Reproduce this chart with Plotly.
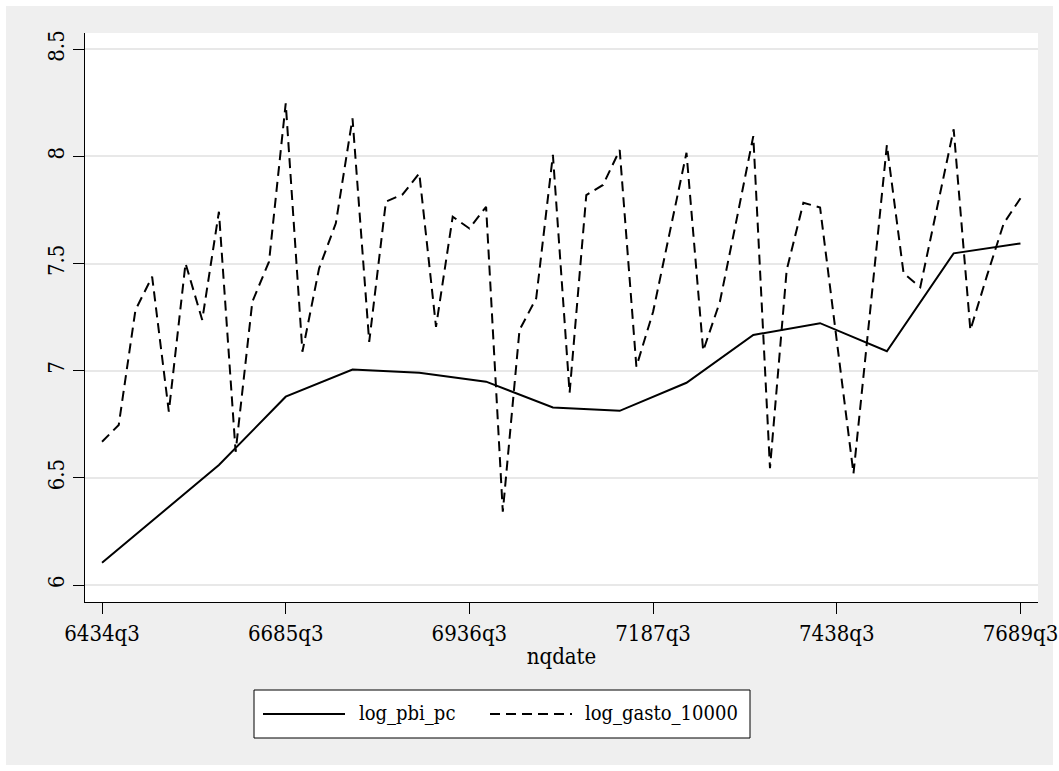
import plotly.graph_objects as go

# Observation index along the time axis (one value per period)
periodo = list(range(56))

# log of public spending (every period)
log_gasto_10000 = [
    6.669, 6.747, 7.283, 7.439, 6.809, 7.501, 7.237, 7.742, 6.622, 7.322,
    7.509, 8.248, 7.089, 7.478, 7.688, 8.178, 7.135, 7.789, 7.823, 7.921,
    7.205, 7.719, 7.664, 7.765, 6.342, 7.190, 7.338, 8.007, 6.897, 7.820,
    7.867, 8.030, 7.019, 7.275, 7.647, 8.017, 7.093, 7.322, 7.705, 8.095,
    6.545, 7.470, 7.784, 7.762, 7.140, 6.520, 7.280, 8.053, 7.455, 7.390,
    7.758, 8.127, 7.190, 7.445, 7.688, 7.805,
]

# log of GDP per capita (observed only in some periods; gaps are connected)
pbi_obs = {0: 6.104, 7: 6.560, 11: 6.879, 15: 7.006, 19: 6.991, 23: 6.949,
           27: 6.829, 31: 6.813, 35: 6.944, 39: 7.167, 43: 7.222, 47: 7.091,
           51: 7.548, 55: 7.594}
log_pbi_pc = [pbi_obs.get(p) for p in periodo]

x_tickvals = [0, 11, 22, 33, 44, 55]
x_ticktext = ["6434q3", "6685q3", "6936q3", "7187q3", "7438q3", "7689q3"]
y_tickvals = [6, 6.5, 7, 7.5, 8, 8.5]
y_ticktext = ["6", "6.5", "7", "7.5", "8", "8.5"]

W, H = 1059, 771
ML, MR, MT, MB = 85, 21, 33, 169
PW, PH = W - ML - MR, H - MT - MB

FONT = "DejaVu Serif Condensed, DejaVu Serif, serif"


def fx(px):
    return (px - ML) / PW


def fy(py):
    return (H - MB - py) / PH


fig = go.Figure()
fig.add_trace(go.Scatter(
    x=periodo, y=log_pbi_pc, mode="lines", connectgaps=True,
    line=dict(color="black", width=2), name="log_pbi_pc", showlegend=False,
))
fig.add_trace(go.Scatter(
    x=periodo, y=log_gasto_10000, mode="lines",
    line=dict(color="black", width=2, dash="10px,6px"),
    name="log_gasto_10000", showlegend=False,
))

shapes = [
    # white outer frame around the grey graph region
    dict(type="rect", xref="paper", yref="paper",
         x0=fx(0), x1=fx(W), y0=fy(H), y1=fy(0),
         line=dict(color="white", width=12), fillcolor="rgba(0,0,0,0)",
         layer="below"),
    # legend box
    dict(type="rect", xref="paper", yref="paper",
         x0=fx(254), x1=fx(750), y0=fy(738), y1=fy(690),
         line=dict(color="black", width=1), fillcolor="white"),
    dict(type="line", xref="paper", yref="paper",
         x0=fx(263), x1=fx(345), y0=fy(714), y1=fy(714),
         line=dict(color="black", width=2)),
    dict(type="line", xref="paper", yref="paper",
         x0=fx(490), x1=fx(572), y0=fy(714), y1=fy(714),
         line=dict(color="black", width=2, dash="10px,6px")),
]

annotations = [
    dict(xref="paper", yref="paper", x=fx(357), y=fy(713), text="log_pbi_pc",
         showarrow=False, xanchor="left", yanchor="middle",
         font=dict(family=FONT, size=20, color="black")),
    dict(xref="paper", yref="paper", x=fx(583), y=fy(713), text="log_gasto_10000",
         showarrow=False, xanchor="left", yanchor="middle",
         font=dict(family=FONT, size=20, color="black")),
]

fig.update_layout(
    width=W, height=H,
    margin=dict(l=ML, r=MR, t=MT, b=MB, pad=0, autoexpand=False),
    paper_bgcolor="#efefef", plot_bgcolor="white",
    showlegend=False,
    shapes=shapes, annotations=annotations,
    font=dict(family=FONT, size=22, color="black"),
)

fig.update_xaxes(
    range=[-1.02, 56.05], automargin=False,
    tickvals=x_tickvals, ticktext=x_ticktext,
    ticks="outside", ticklen=11, tickwidth=1.2, tickcolor="black",
    showline=True, linecolor="black", linewidth=1.2,
    showgrid=False, zeroline=False,
    tickfont=dict(family=FONT, size=22),
    title=dict(text="nqdate", font=dict(family=FONT, size=22), standoff=4),
)
fig.update_yaxes(
    range=[5.921, 8.576], automargin=False,
    tickvals=y_tickvals, ticktext=y_ticktext, tickangle=-90,
    ticks="outside", ticklen=11, tickwidth=1.2, tickcolor="black",
    showline=True, linecolor="black", linewidth=1.2,
    showgrid=True, gridcolor="#e8e8e8", gridwidth=1.5, zeroline=False,
    tickfont=dict(family=FONT, size=22),
)

fig.write_html("out.html")
